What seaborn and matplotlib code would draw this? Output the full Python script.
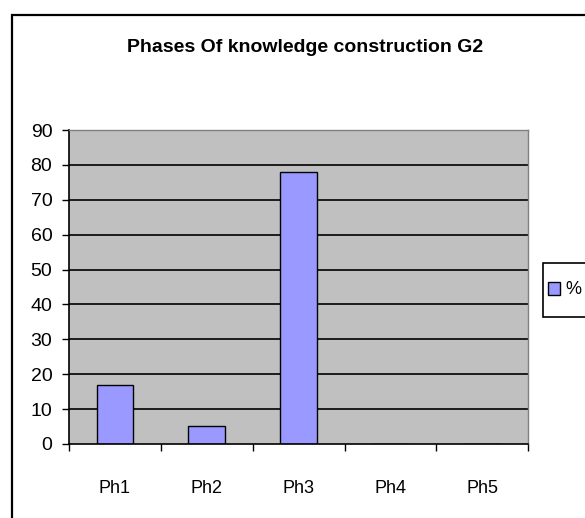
import matplotlib
matplotlib.use("Agg")
import matplotlib.pyplot as plt
from matplotlib.patches import Patch, Rectangle
import seaborn as sns

# data
phases = ["Ph1", "Ph2", "Ph3", "Ph4", "Ph5"]
percent = [17, 5, 78, 0, 0]
series_name = "%"

sns.set_style("white")
plt.rcParams["font.family"] = ["Liberation Sans", "DejaVu Sans"]
plt.rcParams["text.color"] = "black"
plt.rcParams["xtick.color"] = "black"
plt.rcParams["ytick.color"] = "black"

fig = plt.figure(figsize=(5.85, 5.18), dpi=100)
ax = fig.add_axes([0.118, 0.143, 0.785, 0.606])

sns.barplot(x=phases, y=percent, color="#9999FF", edgecolor="black",
            linewidth=1.0, width=0.4, saturation=1, ax=ax)

ax.set_facecolor("#C0C0C0")
ax.set_ylim(0, 90)
ax.set_xlim(-0.5, 4.5)
ax.set_yticks(range(0, 100, 10))
ax.set_xlabel("")
ax.set_ylabel("")

# black gridlines, Excel style
for v in range(10, 90, 10):
    ax.axhline(v, color="black", linewidth=1.2, zorder=0.5)
ax.set_axisbelow(True)

for side in ["top", "right"]:
    ax.spines[side].set_color("#808080")
    ax.spines[side].set_linewidth(1.0)
for side in ["left", "bottom"]:
    ax.spines[side].set_color("black")
    ax.spines[side].set_linewidth(1.2)

ax.tick_params(axis="y", direction="out", length=5, width=1,
               labelsize=14, pad=7, left=True)
ax.set_xticks([i - 0.5 for i in range(6)], minor=True)
ax.tick_params(axis="x", which="minor", direction="out", length=5, width=1,
               bottom=True)
ax.tick_params(axis="x", which="major", length=0, labelsize=13, pad=26)

fig.text(0.521, 0.909, "Phases Of knowledge construction G2",
         ha="center", va="center", fontsize=14, fontweight="bold")

# legend: box drawn by hand so it can be tall but narrow
fig.patches.append(Rectangle((543 / 585, 1 - 317 / 518), 0.2, 54 / 518,
                             transform=fig.transFigure, fill=True,
                             facecolor="white", edgecolor="black", linewidth=1.2))
handle = Patch(facecolor="#9999FF", edgecolor="black", linewidth=1.0)
leg = fig.legend([handle], [series_name], loc="center left",
                 bbox_to_anchor=(546 / 585, 1 - 290 / 518), frameon=False,
                 fontsize=13, handlelength=0.7, handleheight=0.7,
                 handletextpad=0.3, borderpad=0.1, borderaxespad=0)

# outer chart border (clipped on the right and bottom like the source)
fig.patches.append(Rectangle((0.021, -0.1), 1.2, 0.1 + 0.971, transform=fig.transFigure,
                             fill=False, edgecolor="black", linewidth=1.6))

fig.savefig("out.png", dpi=100)
